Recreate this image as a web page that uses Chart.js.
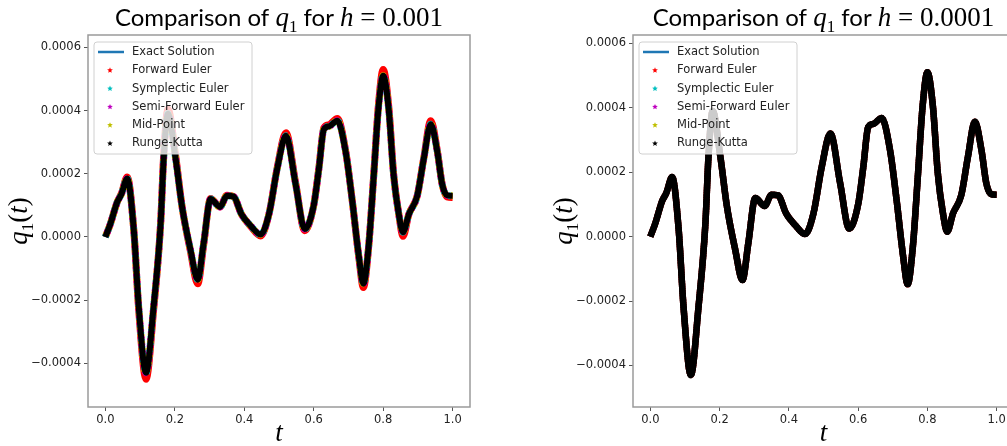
<!DOCTYPE html>
<html lang="en">
<head>
<meta charset="UTF-8" />
<title>Comparison of q1</title>
<script src="https://cdn.jsdelivr.net/npm/chart.js"></script>
<style>
  html, body { margin: 0; padding: 0; background: #fff; overflow: hidden; }
  body { width: 1007px; height: 446px; position: relative; }
  .panel { position: absolute; top: 0; height: 446px; }
  #left { left: 0; width: 500px; }
  #right { left: 500px; width: 530px; }
</style>
</head>
<body>
<div class="panel" id="left"><canvas id="chartA"></canvas></div>
<div class="panel" id="right"><canvas id="chartB"></canvas></div>
<script>
// sample times
const tValues = [0, 0.014, 0.034, 0.046, 0.063, 0.082, 0.096, 0.117, 0.139, 0.159,
  0.168, 0.18, 0.202, 0.221, 0.245, 0.266, 0.283, 0.303, 0.33, 0.35,
  0.369, 0.392, 0.418, 0.447, 0.471, 0.495, 0.52, 0.548, 0.574, 0.6,
  0.615, 0.629, 0.644, 0.668, 0.692, 0.711, 0.73, 0.743, 0.758, 0.773,
  0.786, 0.8, 0.816, 0.83, 0.845, 0.857, 0.874, 0.898, 0.917, 0.937,
  0.956, 0.97, 0.984, 1.0];

// exact solution (the other schemes sit on top of it)
const exactQ1 = [0, 0.4e-4, 1.1e-4, 1.35e-4, 1.85e-4, 0.2e-4, -2.2e-4, -4.3e-4, -2.2e-4, 0.4e-4,
  2.5e-4, 3.9e-4, 2.5e-4, 0.95e-4, -0.4e-4, -1.35e-4, -0.2e-4, 1.2e-4, 0.95e-4, 1.3e-4,
  1.28e-4, 0.72e-4, 0.36e-4, 0.08e-4, 0.72e-4, 2.17e-4, 3.2e-4, 1.66e-4, 0.25e-4, 1.0e-4,
  2.17e-4, 3.4e-4, 3.5e-4, 3.68e-4, 2.69e-4, 1.14e-4, -0.62e-4, -1.48e-4, -0.31e-4, 1.97e-4,
  4.03e-4, 5.1e-4, 4.03e-4, 1.97e-4, 0.72e-4, 0.15e-4, 0.72e-4, 1.3e-4, 2.48e-4, 3.57e-4,
  2.69e-4, 1.66e-4, 1.32e-4, 1.3e-4];

// forward Euler with h = 0.001 overshoots a little at the extremes
const forwardEulerCoarse = [0, 0.4e-4, 1.1e-4, 1.37e-4, 1.9e-4, 0.2e-4, -2.3e-4, -4.5e-4, -2.3e-4, 0.4e-4,
  2.6e-4, 4.05e-4, 2.6e-4, 0.95e-4, -0.45e-4, -1.48e-4, -0.25e-4, 1.22e-4, 0.95e-4, 1.32e-4,
  1.28e-4, 0.72e-4, 0.34e-4, 0.03e-4, 0.72e-4, 2.2e-4, 3.3e-4, 1.7e-4, 0.2e-4, 1.0e-4,
  2.2e-4, 3.45e-4, 3.55e-4, 3.75e-4, 2.72e-4, 1.14e-4, -0.66e-4, -1.6e-4, -0.33e-4, 2.0e-4,
  4.13e-4, 5.3e-4, 4.13e-4, 2.0e-4, 0.72e-4, 0.02e-4, 0.72e-4, 1.3e-4, 2.5e-4, 3.68e-4,
  2.72e-4, 1.66e-4, 1.27e-4, 1.25e-4];

const seriesNames = ['Exact Solution', 'Forward Euler', 'Symplectic Euler', 'Semi-Forward Euler', 'Mid-Point', 'Runge-Kutta'];
const seriesColors = ['#1f77b4', '#ff0000', '#00bfbf', '#bf00bf', '#bfbf00', '#000000'];

const xTicks = [0, 0.2, 0.4, 0.6, 0.8, 1.0];
const yTicks = [-0.0004, -0.0002, 0, 0.0002, 0.0004, 0.0006];

const tickFont = { family: 'DejaVu Sans', size: 11.5 };
const sansFont = 'Lato';
const mathFont = 'Liberation Serif';

function pts(vals) {
  return tValues.map((t, i) => ({ x: t, y: vals[i] }));
}

function drawSegments(ctx, segs, x, y, align) {
  let total = 0;
  segs.forEach(s => { ctx.font = s.font; total += ctx.measureText(s.text).width; });
  let cx = align === 'center' ? x - total / 2 : x;
  ctx.textAlign = 'left';
  ctx.textBaseline = 'alphabetic';
  segs.forEach(s => {
    ctx.font = s.font;
    ctx.fillText(s.text, cx, y + (s.dy || 0));
    cx += ctx.measureText(s.text).width;
  });
}

function star(ctx, x, y, r, color) {
  ctx.beginPath();
  for (let i = 0; i < 10; i++) {
    const a = -Math.PI / 2 + i * Math.PI / 5;
    const rr = i % 2 === 0 ? r : r * 0.45;
    ctx.lineTo(x + rr * Math.cos(a), y + rr * Math.sin(a));
  }
  ctx.closePath();
  ctx.fillStyle = color;
  ctx.fill();
}

function decorPlugin(hLabel) {
  return {
    id: 'decor',
    afterDatasetsDraw(chart) {
      const ctx = chart.ctx;
      const a = chart.chartArea;
      ctx.save();
      // axes frame
      ctx.strokeStyle = '#9a9a9a';
      ctx.lineWidth = 1.5;
      ctx.strokeRect(a.left, a.top, a.right - a.left, a.bottom - a.top);

      // legend box
      const lx = a.left + 6, ly = a.top + 7, lw = 158, lh = 112;
      ctx.fillStyle = 'rgba(255,255,255,0.8)';
      ctx.strokeStyle = '#d0d0d0';
      ctx.lineWidth = 1;
      ctx.beginPath();
      ctx.roundRect(lx, ly, lw, lh, 3);
      ctx.fill();
      ctx.stroke();
      chart.data.datasets.forEach((ds, i) => {
        const ry = ly + 10 + i * 18.3;
        if (i === 0) {
          ctx.strokeStyle = ds.legendColor;
          ctx.lineWidth = 2.5;
          ctx.beginPath();
          ctx.moveTo(lx + 4, ry);
          ctx.lineTo(lx + 30, ry);
          ctx.stroke();
        } else {
          star(ctx, lx + 16, ry, 3, ds.legendColor);
        }
        ctx.fillStyle = '#222';
        ctx.font = '11.5px "DejaVu Sans"';
        ctx.textAlign = 'left';
        ctx.textBaseline = 'middle';
        ctx.fillText(ds.label, lx + 38, ry);
      });

      // title and axis labels
      ctx.fillStyle = '#000';
      const cx = (a.left + a.right) / 2;
      drawSegments(ctx, [
        { text: 'Comparison of ', font: '24px ' + sansFont },
        { text: 'q', font: 'italic 27px ' + mathFont },
        { text: '1', font: '17px ' + mathFont, dy: 6 },
        { text: ' for ', font: '24px ' + sansFont },
        { text: 'h', font: 'italic 27px ' + mathFont },
        { text: ' = ' + hLabel, font: '27px ' + mathFont }
      ], cx, 26, 'center');

      drawSegments(ctx, [{ text: 't', font: 'italic 27px ' + mathFont }], cx, 441, 'center');

      ctx.translate(a.left - 61, (a.top + a.bottom) / 2);
      ctx.rotate(-Math.PI / 2);
      drawSegments(ctx, [
        { text: 'q', font: 'italic 27px ' + mathFont },
        { text: '1', font: '17px ' + mathFont, dy: 6 },
        { text: '(', font: '27px ' + mathFont },
        { text: 't', font: 'italic 27px ' + mathFont },
        { text: ')', font: '27px ' + mathFont }
      ], 0, 0, 'center');
      ctx.restore();
    }
  };
}

function makeChart(id, cfg) {
  const dashes = [[], [], [2, 5], [2, 5], [2, 5], []];
  const offsets = [0, 0, 0, 2.3, 4.6, 0];
  const datasets = seriesNames.map((name, i) => ({
    label: name,
    data: pts(cfg.values[i]),
    borderColor: cfg.lineColors[i],
    legendColor: seriesColors[i],
    borderWidth: cfg.widths[i],
    borderDash: dashes[i],
    borderDashOffset: offsets[i],
    pointRadius: 0,
    cubicInterpolationMode: 'monotone',
    order: 6 - i
  }));

  return new Chart(document.getElementById(id), {
    type: 'line',
    data: { datasets },
    plugins: [decorPlugin(cfg.h)],
    options: {
      responsive: true,
      maintainAspectRatio: false,
      animation: false,
      layout: { padding: { top: 35, right: cfg.padRight, left: 0, bottom: 0 } },
      plugins: { legend: { display: false }, tooltip: { enabled: false }, title: { display: false } },
      scales: {
        x: {
          type: 'linear',
          min: -0.05,
          max: 1.05,
          afterBuildTicks: s => { s.ticks = xTicks.map(v => ({ value: v })); },
          afterFit: s => { s.height = 39; },
          ticks: { callback: v => v.toFixed(1), font: tickFont, color: '#222', padding: 2, maxRotation: 0, autoSkip: false },
          grid: { drawOnChartArea: false, drawTicks: true, tickLength: 4, color: '#555' },
          border: { display: false }
        },
        y: {
          min: cfg.yMin,
          max: cfg.yMax,
          afterBuildTicks: s => { s.ticks = yTicks.map(v => ({ value: v })); },
          afterFit: s => { s.width = cfg.yAxisWidth; },
          ticks: {
            callback: v => (v < -1e-12 ? '\u2212' : '') + Math.abs(v).toFixed(4),
            font: tickFont, color: '#222', padding: 3, autoSkip: false
          },
          grid: { drawOnChartArea: false, drawTicks: true, tickLength: 4, color: '#555' },
          border: { display: false }
        }
      }
    }
  });
}

makeChart('chartA', {
  h: '0.001',
  values: [exactQ1, forwardEulerCoarse, exactQ1, exactQ1, exactQ1, exactQ1],
  lineColors: seriesColors,
  widths: [2, 7, 7, 7, 7, 6],
  yMin: -0.000538,
  yMax: 0.000639,
  yAxisWidth: 88,
  padRight: 30
});

makeChart('chartB', {
  h: '0.0001',
  values: [exactQ1, exactQ1, exactQ1, exactQ1, exactQ1, exactQ1],
  lineColors: ['#1f77b4', '#ff0000', '#000000', '#000000', '#000000', '#000000'],
  widths: [2, 6.5, 6.5, 6.5, 6.5, 6.5],
  yMin: -0.000529,
  yMax: 0.000626,
  yAxisWidth: 133,
  padRight: 16
});
</script>
</body>
</html>
